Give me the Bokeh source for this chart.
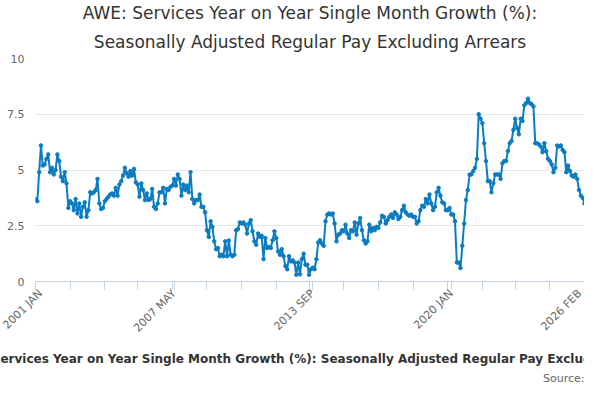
import numpy as np
from bokeh.plotting import figure
from bokeh.models import Range1d, FixedTicker, Title
from bokeh.embed import file_html
from bokeh.resources import INLINE

values = [
3.7,3.6,4.9,6.1,5.2,5.25,5.5,5.7,4.9,5.1,
4.8,5.0,5.7,5.4,4.7,4.5,4.9,4.4,3.3,3.6,
3.5,3.2,3.7,3.05,3.5,2.9,3.35,3.55,2.9,3.2,
4.0,3.95,4.0,4.1,4.6,3.5,3.25,3.3,3.6,3.7,
3.8,3.9,3.95,3.85,4.2,3.85,4.35,4.5,4.75,5.1,
4.85,4.7,4.95,4.75,5.05,4.45,4.35,3.8,4.4,4.1,
3.65,3.95,3.65,3.7,4.15,3.35,3.25,3.5,4.0,4.0,
4.2,3.5,4.15,4.1,4.25,4.3,4.6,4.3,4.8,4.6,
3.85,4.35,4.1,4.3,4.0,4.9,3.7,3.5,3.65,3.65,
3.9,3.35,3.35,3.1,2.3,2.0,2.7,2.45,1.8,1.45,
1.5,1.13,1.2,1.13,1.8,1.13,1.84,
1.2,1.13,1.2,2.3,2.35,2.65,2.6,2.65,2.55,2.15,
2.6,2.75,2.25,1.8,1.65,2.15,2.0,2.05,1.0,1.95,
1.5,1.55,1.5,1.85,2.25,1.95,1.35,1.2,1.45,1.13,
0.7,0.55,1.13,0.9,0.95,0.85,0.3,0.85,0.32,1.0,
1.25,0.75,0.75,0.3,0.55,0.62,0.55,1.0,1.75,1.85,
1.7,1.6,2.7,3.0,3.05,3.0,3.05,2.6,1.8,2.1,
2.15,2.3,2.25,2.55,2.15,1.95,2.3,2.25,2.65,2.1,
2.6,2.85,2.3,1.85,1.7,1.8,2.55,2.25,2.4,2.3,
2.45,2.4,2.65,2.95,2.9,2.6,2.75,
2.9,3.0,2.85,3.1,3.0,2.8,2.9,3.2,3.4,3.1,3.0,2.95,3.0,2.9,
2.9,2.6,2.7,3.2,3.4,3.35,3.7,3.5,3.9,3.5,
3.2,3.35,4.0,4.2,3.85,3.55,3.5,3.2,3.2,3.3,
3.0,3.0,2.7,0.85,0.85,0.6,1.6,2.6,3.65,4.1,
4.8,4.8,4.95,5.1,5.5,7.5,7.3,7.1,6.2,5.4,
4.5,4.5,4.0,4.4,4.8,4.8,4.8,4.6,5.3,5.4,
5.4,5.85,6.2,6.3,6.8,7.3,6.9,6.6,7.3,7.2,
7.9,8.0,8.2,8.0,7.95,7.85,6.2,6.2,6.15,6.05,
5.8,6.2,5.85,5.5,5.4,5.25,4.9,5.1,6.1,
6.05,6.1,5.9,5.8,4.9,5.2,4.95,4.75,4.7,
4.8,4.6,4.1,3.85,3.75,3.5,
]
tick_labels = {0: "2001 JAN", 76: "2007 MAY", 152: "2013 SEP", 228: "2020 JAN", 301: "2026 FEB"}
y_ticks = [0, 2.5, 5, 7.5, 10]
y_labels = {0: "0", 2.5: "2.5", 5: "5", 7.5: "7.5", 10: "10"}

n = len(values)
x = np.arange(n)
last = n - 1

p = figure(width=584, height=384, output_backend="svg", toolbar_location=None,
           x_range=Range1d(0, last), y_range=Range1d(0, 10),
           min_border_left=35, min_border_right=0, min_border_top=0, min_border_bottom=0)
p.outline_line_color = None
p.background_fill_color = "white"
p.border_fill_color = "white"

tick_pos = sorted(set([round(i * last / 16) for i in range(17)] + list(tick_labels.keys())))
p.xaxis.ticker = FixedTicker(ticks=tick_pos)
p.xaxis.major_label_overrides = {t: tick_labels.get(t, "") for t in tick_pos}
p.xaxis.major_label_orientation = np.pi / 4
p.xaxis.axis_line_color = "#c6d3e3"
p.xaxis.major_tick_line_color = "#c6d3e3"
p.xaxis.major_tick_in = 0
p.xaxis.major_tick_out = 8
p.xaxis.minor_tick_line_color = None
p.xaxis.major_label_text_color = "#666666"
p.xaxis.major_label_text_font = "DejaVu Sans"
p.xaxis.major_label_text_font_size = "11px"
p.xaxis.major_label_standoff = 2
p.xaxis.axis_label = "AWE: Services Year on Year Single Month Growth (%): Seasonally Adjusted Regular Pay Excluding Arrears"
p.xaxis.axis_label_text_font = "DejaVu Sans"
p.xaxis.axis_label_text_font_style = "bold"
p.xaxis.axis_label_text_font_size = "12px"
p.xaxis.axis_label_text_color = "#333333"
p.xaxis.axis_label_standoff = 10

p.yaxis.ticker = FixedTicker(ticks=y_ticks)
p.yaxis.major_label_overrides = y_labels
p.yaxis.axis_line_color = None
p.yaxis.major_tick_line_color = None
p.yaxis.minor_tick_line_color = None
p.yaxis.major_label_text_color = "#666666"
p.yaxis.major_label_text_font = "DejaVu Sans"
p.yaxis.major_label_text_font_size = "11px"
p.xgrid.grid_line_color = None
p.ygrid.grid_line_color = "#e6e6e6"

p.line(x, values, line_color="#0a7cc1", line_width=2)
p.scatter(x, values, size=3.5, color="#0a7cc1")

p.add_layout(Title(text="Source:", align="right", text_font="DejaVu Sans", standoff=0,
                   text_font_size="11px", text_font_style="normal", text_color="#666666"), "below")
p.add_layout(Title(text="Seasonally Adjusted Regular Pay Excluding Arrears", align="center",
                   text_font="DejaVu Sans", text_font_size="17px", text_font_style="normal",
                   text_color="#333333", standoff=14), "above")
p.add_layout(Title(text="AWE: Services Year on Year Single Month Growth (%):", align="center",
                   text_font="DejaVu Sans", text_font_size="17px", text_font_style="normal",
                   text_color="#333333", standoff=0, offset=0), "above")

open("out.html", "w").write(file_html(p, INLINE))
